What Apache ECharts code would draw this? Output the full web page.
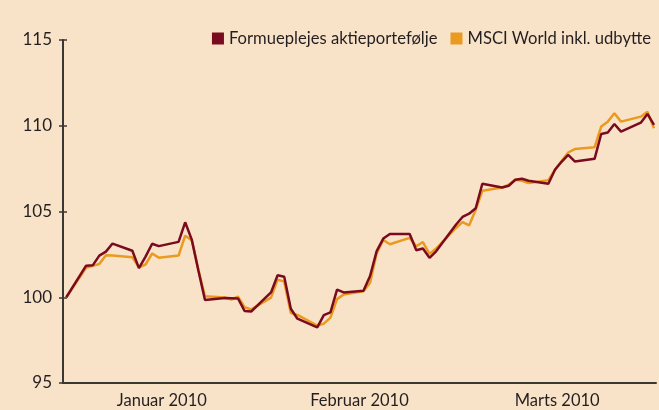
<!DOCTYPE html>
<html>
	<head>
		<title>Formuepleje vs MSCI World</title>
		<meta charset="utf-8"/>
		<style type="text/css">
			*{margin: 0;padding: 0;}
			html,body{
				width: 659px;
				height: 410px;
				background-color: #f9e3c8;
			}
			.chart{
				width: 659px;
				height: 410px;
			}
		</style>
		<script type="text/javascript" src="https://cdn.jsdelivr.net/npm/echarts@6/dist/echarts.min.js"></script>
	</head>
	<body>
		<div class="chart js-chart"></div>
		<script type="text/javascript">
			// maaneder paa x-aksen
			var maaneder=["Januar 2010","Februar 2010","Marts 2010"];
			// dag i aaret (1. jan = 1) for hver handelsdag
			var dage=[1,
				4,5,6,7,8, 11,12,13,14,15, 18,19,20,21,22, 25,26,27,28,29,
				32,33,34,35,36, 39,40,41,42,43, 46,47,48,49,50, 53,54,55,56,57,
				60,61,62,63,64, 67,68,69,70,71, 74,75,76,77,78, 81,82,83,84,85, 88,89,90];
			var formuepleje=[100,
				101.84,101.86,102.43,102.66,103.13,
				102.71,101.70,102.37,103.12,102.98,
				103.23,104.37,103.36,101.56,99.84,
				99.95,99.94,99.93,99.20,99.17,
				100.28,101.28,101.19,99.33,98.75,
				98.24,98.96,99.12,100.44,100.28,
				100.38,101.24,102.69,103.42,103.69,
				103.69,102.74,102.84,102.30,102.68,
				104.23,104.68,104.87,105.19,106.62,
				106.40,106.50,106.85,106.91,106.79,
				106.62,107.43,107.90,108.30,107.92,
				108.07,109.52,109.61,110.10,109.66,
				110.18,110.69,110.05];
			var msci=[100,
				101.72,101.83,101.94,102.45,102.43,
				102.33,101.75,101.91,102.55,102.31,
				102.43,103.59,103.32,101.62,100.06,
				99.99,99.87,100.03,99.42,99.29,
				99.98,101.03,100.91,99.08,98.97,
				98.34,98.46,98.81,99.89,100.16,
				100.35,100.84,102.55,103.34,103.09,
				103.46,102.97,103.22,102.53,102.84,
				104.04,104.38,104.19,105.10,106.21,
				106.40,106.56,106.85,106.79,106.66,
				106.82,107.43,107.95,108.44,108.64,
				108.74,109.95,110.24,110.73,110.24,
				110.53,110.82,109.85];
			var navne=["Formueplejes aktieportefølje","MSCI World inkl. udbytte"];

			function par(arr){
				var res=[];
				for(var i=0;i<arr.length;i++){
					res.push([dage[i],arr[i]]);
				}
				return res;
			}

			var akseFarve="#3b3735",tekstFarve="#231f20",skrift="Lato";
			var chart=echarts.init(document.querySelector(".js-chart"));
			var option={
				animation:false,
				backgroundColor:"#f9e3c8",
				textStyle:{fontFamily:skrift},
				grid:{left:63,right:3,top:40,bottom:27,containLabel:false},
				legend:{
					data:[navne[0],navne[1]],
					right:3,
					top:25,
					icon:"rect",
					itemWidth:12,
					itemHeight:12,
					itemGap:13,
					textStyle:{color:tekstFarve,fontSize:16.6,fontFamily:skrift}
				},
				xAxis:[{
					type:"category",
					data:maaneder,
					position:"bottom",
					boundaryGap:true,
					axisLine:{lineStyle:{color:akseFarve,width:2}},
					axisTick:{length:4,lineStyle:{color:akseFarve,width:1.5}},
					axisLabel:{color:tekstFarve,fontSize:16.5,margin:9}
				},{
					type:"category",
					data:maaneder,
					position:"bottom",
					boundaryGap:true,
					axisLine:{show:false},
					axisTick:{inside:true,length:4,lineStyle:{color:akseFarve,width:1.5}},
					axisLabel:{show:false}
				},{
					type:"value",
					show:false,
					position:"top",
					min:0.5,
					max:90.3
				}],
				yAxis:[{
					type:"value",
					min:95,
					max:115,
					interval:5,
					axisLine:{show:true,lineStyle:{color:akseFarve,width:2}},
					axisTick:{show:true,length:4,lineStyle:{color:akseFarve,width:1.5}},
					axisLabel:{color:tekstFarve,fontSize:17,margin:11},
					splitLine:{show:false}
				},{
					type:"value",
					min:95,
					max:115,
					interval:5,
					position:"left",
					axisLine:{show:false},
					axisTick:{show:true,inside:true,length:4,lineStyle:{color:akseFarve,width:1.5}},
					axisLabel:{show:false},
					splitLine:{show:false}
				}],
				series:[{
					name:navne[1],
					type:"line",
					xAxisIndex:2,
					yAxisIndex:0,
					data:par(msci),
					symbol:"none",
					color:"#e99a1f",
					lineStyle:{width:2.5,color:"#e99a1f"}
				},{
					name:navne[0],
					type:"line",
					xAxisIndex:2,
					yAxisIndex:0,
					data:par(formuepleje),
					symbol:"none",
					color:"#7a0a1e",
					lineStyle:{width:2.5,color:"#7a0a1e"}
				}]
			};
			chart.setOption(option);
		</script>
	</body>
</html>
